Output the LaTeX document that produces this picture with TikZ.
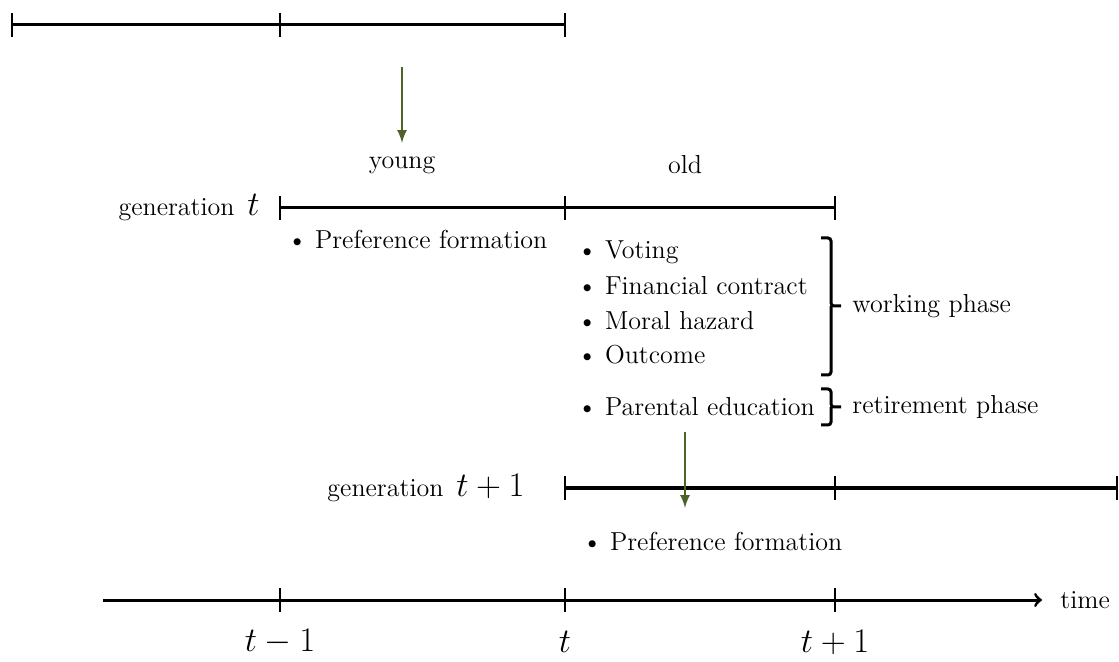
\documentclass[tikz,border=0pt]{standalone}
\usepackage{tikz}
\usetikzlibrary{arrows}

\definecolor{olivegreen}{RGB}{79,98,40}
\newcommand{\itm}{\textbullet\hspace{0.3em}}

\begin{document}
\begin{tikzpicture}[x=0.5pt, y=-0.5pt,
    axis/.style = {line width=1.5pt},
    tick/.style = {line width=1.2pt},
    brk/.style = {line width=1.5pt, rounded corners=1.5pt},
    gen/.style = {olivegreen, line width=1.2pt, -latex},
    txt/.style = {font=\fontsize{13}{15}\selectfont, inner sep=1pt},
    lbl/.style = {font=\fontsize{16}{18}\selectfont, inner sep=1pt}]
    \useasboundingbox (0,0) rectangle (1119,662);
%   generation t-1
    \draw[axis] (12,25) -- (565,25);
    \draw[tick] (12,13) -- (12,37);
    \draw[tick] (280,13) -- (280,37);
    \draw[tick] (565,13) -- (565,37);
    \coordinate (gta) at (402,67);
    \node[txt] (young) at (402,165) {young};
    \node[txt] (old) at (685,165) {old};
    \draw[gen] (gta) -- (402,143); %arrow to young
%   generation t
    \node[txt, anchor=east] (gent) at (262,208) {generation \,{\fontsize{16}{18}\selectfont $t$}};
    \draw[axis] (280,208) -- (835,208);
    \draw[tick] (280,196) -- (280,220);
    \draw[tick] (565,196) -- (565,220);
    \draw[tick] (835,196) -- (835,220);
    \node[txt, anchor=west] (pref) at (285,239) {\itm Preference formation};
    \node[txt, anchor=west] (vote) at (575,252) {\itm Voting};
    \node[txt, anchor=west] (fin) at (575,286) {\itm Financial contract};
    \node[txt, anchor=west] (moral) at (575,321) {\itm Moral hazard};
    \node[txt, anchor=west] (outc) at (575,355) {\itm Outcome};
    \node[txt, anchor=west] (parent) at (575,407) {\itm Parental education};
    \draw[brk] (821,238) -| (831,306) -- (841,306) (831,306) |- (821,375);
    \node[txt, anchor=west] (work) at (850,306) {working phase};
    \draw[brk] (821,389) -| (831,407) -- (841,407) (831,407) |- (821,425);
    \node[txt, anchor=west] (retire) at (850,407) {retirement phase};
%   generation t+1
    \node[txt, anchor=east] (gentt) at (527,488) {generation \,{\fontsize{16}{18}\selectfont $t+1$}};
    \draw[axis] (565,488) -- (1117,488);
    \draw[tick] (565,476) -- (565,500);
    \draw[tick] (835,476) -- (835,500);
    \draw[tick] (1117,476) -- (1117,500);
    \coordinate (gtb) at (685,432);
    \draw[gen] (gtb) -- (685,508);
    \node[txt, anchor=west] (pref2) at (580,541) {\itm Preference formation};
%   time axis
    \node[txt, anchor=west] (time) at (1058,600) {time};
    \coordinate (ts) at (103,600);
    \draw[axis, ->, shorten >=8pt] (ts) -- (time.west);
    \draw[tick] (280,588) -- (280,612);
    \draw[tick] (565,588) -- (565,612);
    \draw[tick] (835,588) -- (835,612);
    \node[lbl] (tm) at (280,642) {$t-1$};
    \node[lbl] (t0) at (565,642) {$t$};
    \node[lbl] (tp) at (835,642) {$t+1$};
\end{tikzpicture}
\end{document}
